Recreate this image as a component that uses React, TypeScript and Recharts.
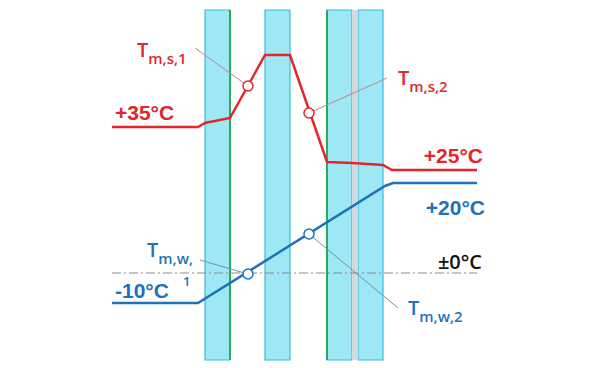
import React from "react";
import { LineChart, Line, XAxis, YAxis, ReferenceArea, ReferenceLine, ReferenceDot } from "recharts";

// position through the glazing (x) and schematic temperature height (y, 0 = ±0°C line)
const surfaceX = [112, 198, 205, 230, 265, 290, 327, 352, 383, 392, 477];
const surfaceT = [146, 146, 150, 155, 218, 218, 111, 110, 108, 103, 103];
const waterX = [112, 198, 385, 393, 477];
const waterT = [-30, -30, 87, 90, 90];

const panes = [
  [205, 230],
  [265, 290],
  [327, 352],
  [358, 383],
];
const gap = [352, 358];
const coatings = [230, 327];
const paneTop = 263;
const paneBottom = -87;

const surfaceMarks = [
  { x: 248, y: 187, lx: 195, ly: 225 },
  { x: 309, y: 160, lx: 387, ly: 195 },
];
const waterMarks = [
  { x: 248, y: -1, lx: 200, ly: 13 },
  { x: 309, y: 39, lx: 398, ly: -35 },
];

const RED = "#E3262B";
const BLUE = "#1F72B8";
const FONT = "Liberation Sans";
const SEMI = "Open Sans";

const labels = [
  { x: 137, y: 216, t: "T", sub: "m,s,1", color: RED },
  { x: 398, y: 188, t: "T", sub: "m,s,2", color: RED },
  { x: 147, y: 16, t: "T", sub: "m,w,", color: BLUE },
  { x: 408, y: -42, t: "T", sub: "m,w,2", color: BLUE },
  { x: 115, y: 153, t: "+35°C", color: RED, bold: true },
  { x: 483, y: 110, t: "+25°C", color: RED, bold: true, end: true },
  { x: 485, y: 58, t: "+20°C", color: BLUE, bold: true, end: true },
  { x: 482, y: 4, t: "±0°C", color: "#111", semi: true, end: true, size: 20 },
  { x: 115, y: -25, t: "-10°C", color: BLUE, bold: true },
  { x: 183, y: -13, t: "1", color: BLUE, semi: true, size: 13 },
];

const surfaceData = surfaceX.map((x, i) => ({ x, t: surfaceT[i] }));
const waterData = waterX.map((x, i) => ({ x, t: waterT[i] }));

const makeLabel = (l: any) => (props: any) => {
  const { cx, cy } = props;
  if (l.sub) {
    return (
      <text x={cx} y={cy} fill={l.color} fontFamily={SEMI} fontWeight={600} fontSize={20}>
        <tspan>{l.t}</tspan>
        <tspan dy={7} fontSize={15}>{l.sub}</tspan>
      </text>
    );
  }
  return (
    <text
      x={cx}
      y={cy}
      fill={l.color}
      fontFamily={l.semi ? SEMI : FONT}
      fontSize={l.size || 21}
      fontWeight={l.bold ? "bold" : l.semi ? 600 : "normal"}
      textAnchor={l.end ? "end" : "start"}
    >
      {l.t}
    </text>
  );
};

export default function App() {
  return (
    <div style={{ position: "absolute", left: 0, top: 0, width: 600, height: 368, background: "#fff" }}>
      <LineChart width={600} height={368} margin={{ top: 0, right: 0, bottom: 0, left: 0 }}>
        <XAxis type="number" dataKey="x" domain={[0, 600]} hide />
        <YAxis type="number" domain={[-95, 273]} hide />

        {panes.map(([a, b], i) => (
          <ReferenceArea key={"p" + i} x1={a} x2={b} y1={paneBottom} y2={paneTop} fill="#9EE8F6" fillOpacity={1} stroke="#3DB9DA" strokeWidth={1.2} />
        ))}
        <ReferenceArea x1={gap[0]} x2={gap[1]} y1={paneBottom} y2={paneTop} fill="#D3DADD" fillOpacity={1} stroke="none" />
        {coatings.map((x, i) => (
          <ReferenceLine key={"c" + i} segment={[{ x, y: paneBottom }, { x, y: paneTop }]} stroke="#2BA85A" strokeWidth={2} />
        ))}

        <ReferenceLine segment={[{ x: 112, y: 0 }, { x: 477, y: 0 }]} stroke="#8A8A8A" strokeWidth={1} strokeDasharray="9 3 2 3" />

        {surfaceMarks.map((m, i) => (
          <ReferenceLine key={"sl" + i} segment={[{ x: m.x, y: m.y }, { x: m.lx, y: m.ly }]} stroke="#C28585" strokeWidth={1} />
        ))}
        {waterMarks.map((m, i) => (
          <ReferenceLine key={"wl" + i} segment={[{ x: m.x, y: m.y }, { x: m.lx, y: m.ly }]} stroke="#6C94B0" strokeWidth={1} />
        ))}

        <Line data={surfaceData} dataKey="t" type="linear" stroke={RED} strokeWidth={2.5} dot={false} activeDot={false} isAnimationActive={false} />
        <Line data={waterData} dataKey="t" type="linear" stroke={BLUE} strokeWidth={2.5} dot={false} activeDot={false} isAnimationActive={false} />

        {surfaceMarks.map((m, i) => (
          <ReferenceDot key={"sd" + i} x={m.x} y={m.y} r={5} fill="#fff" stroke={RED} strokeWidth={1.5} />
        ))}
        {waterMarks.map((m, i) => (
          <ReferenceDot key={"wd" + i} x={m.x} y={m.y} r={5} fill="#fff" stroke={BLUE} strokeWidth={1.5} />
        ))}

        {labels.map((l, i) => (
          <ReferenceDot key={"l" + i} x={l.x} y={l.y} r={0} shape={makeLabel(l)} />
        ))}
      </LineChart>
    </div>
  );
}
